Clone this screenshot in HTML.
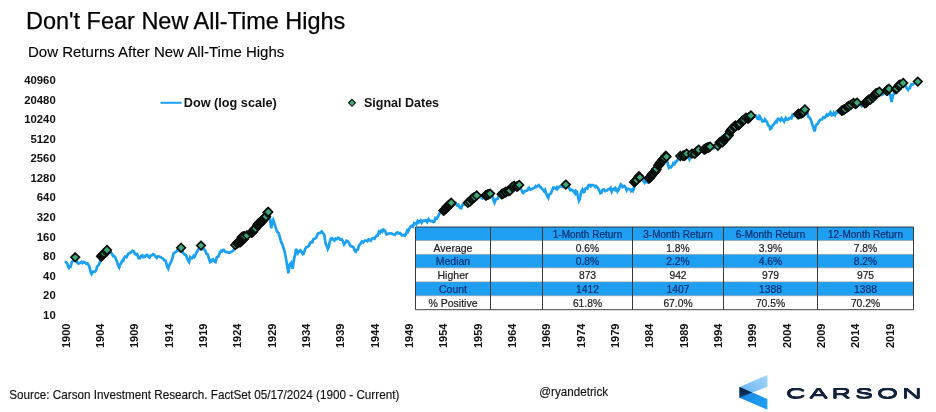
<!DOCTYPE html>
<html lang="en"><head><meta charset="utf-8"><title>Don't Fear New All-Time Highs</title>
<style>html,body{margin:0;padding:0;background:#fff;}body{position:relative;width:936px;height:412px;overflow:hidden;font-family:"Liberation Sans",Arial,sans-serif}svg{display:block}
.carson{position:absolute;left:786.2px;top:382.5px;font-size:14.4px;line-height:20px;letter-spacing:2.1px;color:#14233c;white-space:nowrap;transform-origin:0 0;transform:scaleX(1.88);text-shadow:0 .5px 0 #14233c,0 -.5px 0 #14233c,.1px 0 0 #14233c,-.1px 0 0 #14233c}</style>
</head><body>
<svg width="936" height="412" viewBox="0 0 936 412" font-family='"Liberation Sans", Arial, sans-serif'>
<rect width="936" height="412" fill="#fff"/>
<text x="26.0" y="29.1" font-size="24" fill="#000" stroke="#000" stroke-width="0.25" textLength="319.3" lengthAdjust="spacingAndGlyphs">Don't Fear New All-Time Highs</text>
<text x="28.0" y="57.0" font-size="15" fill="#000" stroke="#000" stroke-width="0.12" textLength="256.3" lengthAdjust="spacingAndGlyphs">Dow Returns After New All-Time Highs</text>
<text x="55.7" y="84.1" font-size="11.3" font-weight="bold" text-anchor="end" fill="#111">40960</text>
<text x="55.7" y="103.7" font-size="11.3" font-weight="bold" text-anchor="end" fill="#111">20480</text>
<text x="55.7" y="123.2" font-size="11.3" font-weight="bold" text-anchor="end" fill="#111">10240</text>
<text x="55.7" y="142.8" font-size="11.3" font-weight="bold" text-anchor="end" fill="#111">5120</text>
<text x="55.7" y="162.3" font-size="11.3" font-weight="bold" text-anchor="end" fill="#111">2560</text>
<text x="55.7" y="181.8" font-size="11.3" font-weight="bold" text-anchor="end" fill="#111">1280</text>
<text x="55.7" y="201.4" font-size="11.3" font-weight="bold" text-anchor="end" fill="#111">640</text>
<text x="55.7" y="220.9" font-size="11.3" font-weight="bold" text-anchor="end" fill="#111">320</text>
<text x="55.7" y="240.5" font-size="11.3" font-weight="bold" text-anchor="end" fill="#111">160</text>
<text x="55.7" y="260.1" font-size="11.3" font-weight="bold" text-anchor="end" fill="#111">80</text>
<text x="55.7" y="279.6" font-size="11.3" font-weight="bold" text-anchor="end" fill="#111">40</text>
<text x="55.7" y="299.2" font-size="11.3" font-weight="bold" text-anchor="end" fill="#111">20</text>
<text x="55.7" y="318.7" font-size="11.3" font-weight="bold" text-anchor="end" fill="#111">10</text>
<text transform="translate(69.6,348) rotate(-90)" font-size="11" font-weight="bold" fill="#111">1900</text>
<text transform="translate(103.9,348) rotate(-90)" font-size="11" font-weight="bold" fill="#111">1904</text>
<text transform="translate(138.3,348) rotate(-90)" font-size="11" font-weight="bold" fill="#111">1909</text>
<text transform="translate(172.6,348) rotate(-90)" font-size="11" font-weight="bold" fill="#111">1914</text>
<text transform="translate(206.9,348) rotate(-90)" font-size="11" font-weight="bold" fill="#111">1919</text>
<text transform="translate(241.2,348) rotate(-90)" font-size="11" font-weight="bold" fill="#111">1924</text>
<text transform="translate(275.6,348) rotate(-90)" font-size="11" font-weight="bold" fill="#111">1929</text>
<text transform="translate(309.9,348) rotate(-90)" font-size="11" font-weight="bold" fill="#111">1934</text>
<text transform="translate(344.2,348) rotate(-90)" font-size="11" font-weight="bold" fill="#111">1939</text>
<text transform="translate(378.6,348) rotate(-90)" font-size="11" font-weight="bold" fill="#111">1944</text>
<text transform="translate(412.9,348) rotate(-90)" font-size="11" font-weight="bold" fill="#111">1949</text>
<text transform="translate(447.2,348) rotate(-90)" font-size="11" font-weight="bold" fill="#111">1954</text>
<text transform="translate(481.6,348) rotate(-90)" font-size="11" font-weight="bold" fill="#111">1959</text>
<text transform="translate(515.9,348) rotate(-90)" font-size="11" font-weight="bold" fill="#111">1964</text>
<text transform="translate(550.2,348) rotate(-90)" font-size="11" font-weight="bold" fill="#111">1969</text>
<text transform="translate(584.5,348) rotate(-90)" font-size="11" font-weight="bold" fill="#111">1974</text>
<text transform="translate(618.9,348) rotate(-90)" font-size="11" font-weight="bold" fill="#111">1979</text>
<text transform="translate(653.2,348) rotate(-90)" font-size="11" font-weight="bold" fill="#111">1984</text>
<text transform="translate(687.5,348) rotate(-90)" font-size="11" font-weight="bold" fill="#111">1989</text>
<text transform="translate(721.9,348) rotate(-90)" font-size="11" font-weight="bold" fill="#111">1994</text>
<text transform="translate(756.2,348) rotate(-90)" font-size="11" font-weight="bold" fill="#111">1999</text>
<text transform="translate(790.5,348) rotate(-90)" font-size="11" font-weight="bold" fill="#111">2004</text>
<text transform="translate(824.9,348) rotate(-90)" font-size="11" font-weight="bold" fill="#111">2009</text>
<text transform="translate(859.2,348) rotate(-90)" font-size="11" font-weight="bold" fill="#111">2014</text>
<text transform="translate(893.5,348) rotate(-90)" font-size="11" font-weight="bold" fill="#111">2019</text>
<line x1="160.5" y1="102.8" x2="181.7" y2="102.8" stroke="#1ca0f2" stroke-width="2"/>
<text x="183.8" y="107.2" font-size="12.5" font-weight="bold" fill="#111" textLength="93" lengthAdjust="spacingAndGlyphs">Dow (log scale)</text>
<path d="M352,99.3 L355.5,102.8 L352,106.3 L348.5,102.8Z" fill="#3da878" stroke="#0a0f0c" stroke-width="1.1"/>
<text x="363.9" y="107.2" font-size="12.5" font-weight="bold" fill="#111" textLength="75.2" lengthAdjust="spacingAndGlyphs">Signal Dates</text>
<path d="M65.8,261.9 L66.8,263.0 L67.5,264.2 L68.3,267.0 L68.9,267.9 L69.8,266.4 L70.6,266.6 L71.8,262.2 L73.0,261.1 L74.3,258.0 L75.7,259.3 L76.7,260.9 L77.6,263.1 L78.6,263.5 L79.8,263.0 L81.6,261.8 L82.6,263.1 L83.8,262.0 L85.2,262.7 L86.4,263.7 L87.6,263.5 L89.1,266.1 L90.0,269.2 L90.9,272.9 L91.7,274.1 L93.2,271.6 L93.7,271.6 L95.1,271.7 L96.1,270.5 L97.0,266.8 L98.5,265.4 L99.6,262.7 L101.0,259.4 L101.9,258.7 L102.9,257.6 L104.1,254.6 L104.6,254.8 L106.0,254.7 L107.1,250.9 L108.3,250.8 L109.2,252.6 L110.7,252.2 L111.9,253.7 L113.1,256.0 L113.6,255.9 L114.8,256.6 L116.7,260.8 L118.2,265.6 L119.2,267.4 L120.0,264.7 L121.1,263.4 L121.6,261.6 L122.4,260.7 L123.3,260.8 L124.0,258.0 L125.0,256.6 L126.5,257.3 L127.7,254.6 L128.5,253.4 L130.0,253.2 L131.3,251.7 L132.5,250.8 L133.7,251.3 L135.1,254.1 L136.2,254.5 L137.1,254.1 L138.6,258.1 L140.0,258.1 L141.0,256.0 L142.4,255.3 L143.5,257.3 L144.7,256.9 L145.6,255.5 L147.1,254.9 L148.6,257.0 L149.5,257.6 L150.5,255.7 L151.9,255.2 L153.2,254.1 L154.0,254.5 L155.4,256.6 L156.8,257.9 L157.8,256.5 L159.2,256.6 L160.5,257.2 L161.5,257.9 L162.9,258.4 L164.4,260.5 L165.5,260.5 L166.0,262.0 L167.2,266.8 L168.2,268.7 L169.6,264.6 L170.1,263.6 L171.1,262.0 L172.6,257.3 L173.6,253.4 L175.0,252.4 L176.2,251.7 L177.4,250.2 L178.6,249.9 L179.6,250.8 L181.0,249.1 L182.3,250.7 L183.2,253.3 L184.7,254.5 L186.0,255.2 L187.1,258.2 L188.4,261.0 L189.1,262.0 L190.2,257.3 L190.8,258.0 L192.2,258.1 L193.5,256.0 L194.4,257.0 L195.3,255.5 L196.2,252.7 L196.8,252.3 L198.1,249.6 L199.3,248.8 L200.2,246.3 L201.7,247.5 L202.6,249.2 L203.9,249.1 L205.3,250.7 L206.5,253.8 L207.8,254.5 L209.0,258.8 L210.2,262.2 L211.1,261.8 L212.1,259.6 L213.1,259.3 L214.6,261.7 L215.5,262.1 L216.8,257.3 L217.5,257.0 L218.3,256.7 L219.9,252.4 L220.8,251.1 L222.0,251.4 L222.8,250.0 L223.8,249.9 L224.8,251.5 L226.0,252.0 L227.0,251.9 L228.2,252.6 L229.6,252.6 L230.6,252.1 L231.6,251.8 L233.6,250.2 L235.0,246.1 L236.1,245.5 L237.3,245.2 L238.5,241.0 L239.7,240.6 L240.5,239.7 L241.5,238.3 L242.5,240.1 L244.0,236.4 L244.6,237.0 L245.5,237.6 L246.6,235.2 L247.6,236.8 L248.7,234.8 L249.4,234.6 L250.4,234.4 L251.3,232.7 L252.2,232.2 L253.3,229.8 L254.3,229.9 L255.6,229.1 L256.7,226.4 L258.2,225.8 L259.1,223.9 L260.6,220.9 L261.5,220.6 L262.8,218.2 L264.0,217.9 L265.3,216.2 L266.3,214.8 L267.3,215.0 L268.8,211.6 L270.0,218.9 L271.3,228.2 L272.6,221.0 L273.2,219.8 L274.9,224.8 L275.8,227.9 L277.3,232.0 L278.6,233.0 L279.8,237.1 L281.1,242.0 L282.2,244.1 L283.1,246.6 L284.6,251.3 L285.5,255.9 L286.3,260.2 L287.6,267.9 L288.3,273.2 L289.5,264.8 L291.2,262.8 L292.0,266.6 L292.6,268.9 L293.7,261.2 L294.3,257.7 L295.2,255.0 L296.0,249.0 L297.4,251.5 L298.0,253.1 L299.1,251.3 L300.4,250.4 L301.5,251.8 L302.8,254.2 L303.6,253.8 L305.2,248.9 L306.7,247.0 L307.7,246.7 L309.2,245.4 L310.3,242.5 L311.3,242.1 L312.3,242.3 L313.4,239.1 L315.0,238.5 L316.4,237.5 L317.7,233.8 L318.6,233.1 L319.9,233.1 L321.7,231.5 L322.7,232.8 L324.2,234.5 L325.2,241.3 L325.9,244.2 L327.1,246.6 L327.8,249.0 L328.8,246.9 L329.5,242.9 L330.9,238.6 L331.9,238.0 L333.0,239.6 L334.4,240.5 L335.6,238.5 L336.8,239.1 L338.0,237.7 L338.9,237.9 L340.1,239.6 L341.7,239.3 L342.6,240.6 L344.1,244.5 L345.5,242.6 L346.5,240.8 L347.9,241.4 L349.4,243.8 L350.8,246.2 L352.6,246.6 L353.4,247.1 L355.0,251.4 L355.7,251.8 L356.8,249.7 L357.9,249.5 L358.6,246.6 L359.5,244.7 L360.5,243.9 L361.8,241.5 L362.3,241.6 L363.3,242.5 L364.9,240.5 L365.9,240.5 L367.4,241.2 L368.5,239.5 L369.6,240.0 L370.8,240.8 L371.9,238.6 L373.2,238.1 L374.6,238.8 L375.8,236.5 L376.8,235.7 L377.8,235.7 L378.9,231.7 L380.0,232.7 L380.5,231.7 L381.4,230.6 L382.4,231.7 L383.4,229.7 L384.8,230.5 L386.6,234.5 L387.5,234.1 L388.9,233.5 L390.2,233.3 L391.1,233.4 L392.2,233.7 L393.8,234.4 L394.9,235.0 L396.4,232.8 L397.5,232.4 L398.4,233.5 L399.9,233.0 L401.1,234.3 L401.9,235.5 L403.5,235.0 L404.8,235.7 L406.2,233.3 L407.3,230.4 L408.2,231.5 L410.0,227.2 L411.5,225.9 L413.0,226.7 L414.2,223.0 L414.9,223.3 L416.2,224.3 L417.7,221.0 L418.8,222.4 L419.7,221.5 L420.6,220.5 L421.6,222.5 L422.7,220.9 L423.8,220.5 L424.6,221.0 L425.9,220.2 L427.2,222.1 L428.6,219.1 L429.4,220.2 L430.6,221.2 L432.0,221.0 L433.1,222.0 L434.3,221.6 L435.4,218.0 L436.7,218.7 L438.2,216.3 L439.4,213.4 L440.3,212.4 L441.2,211.1 L442.8,209.6 L444.0,208.9 L445.0,208.8 L446.5,205.6 L447.6,205.5 L448.8,203.9 L449.8,202.6 L450.7,203.7 L452.5,202.6 L453.5,202.9 L454.4,203.2 L455.6,202.9 L456.1,204.1 L457.2,205.4 L458.3,204.7 L459.8,207.6 L461.2,208.2 L462.3,204.7 L463.4,204.3 L464.5,204.5 L465.7,201.8 L467.0,202.8 L468.3,202.5 L469.2,198.6 L470.7,197.8 L471.8,198.7 L472.8,195.9 L474.3,194.8 L475.8,195.7 L477.0,196.0 L478.0,196.1 L479.3,196.9 L480.8,196.4 L481.6,197.8 L482.6,198.4 L483.8,196.1 L485.2,195.8 L486.1,196.2 L487.5,194.3 L488.9,193.6 L490.1,194.6 L491.3,193.4 L492.5,195.5 L493.3,199.8 L494.5,202.7 L495.8,199.4 L496.9,198.9 L497.8,198.8 L498.7,196.1 L499.8,195.3 L501.1,195.8 L502.4,193.2 L503.4,192.9 L504.8,193.6 L506.3,190.5 L507.1,191.0 L508.5,191.2 L510.0,187.8 L510.7,188.0 L512.2,188.4 L513.6,186.0 L514.4,186.9 L515.5,186.8 L516.4,185.9 L518.0,184.8 L518.9,188.1 L519.9,186.5 L521.4,189.8 L522.6,192.5 L523.3,193.0 L524.5,191.4 L526.2,190.8 L527.3,190.5 L528.5,188.2 L529.1,187.7 L530.4,189.5 L532.0,188.9 L533.1,188.3 L534.4,188.0 L535.0,187.1 L535.8,186.1 L536.7,186.8 L537.9,185.8 L538.8,185.1 L540.2,187.2 L540.8,187.2 L541.7,188.3 L543.1,190.0 L544.2,191.4 L545.1,190.0 L545.6,191.7 L547.1,196.0 L548.2,197.8 L549.0,194.8 L550.1,193.9 L550.9,193.3 L552.4,189.6 L553.4,187.5 L554.8,187.7 L555.8,188.7 L556.7,187.5 L557.3,189.0 L558.6,187.5 L559.2,186.9 L560.2,186.3 L561.7,186.1 L563.0,186.9 L564.4,184.2 L565.0,185.0 L566.0,186.5 L567.6,186.5 L568.9,187.7 L570.3,190.2 L571.5,189.7 L572.9,190.5 L573.8,191.9 L575.1,193.5 L575.7,191.0 L577.0,192.1 L577.7,195.5 L579.0,200.6 L579.9,198.8 L580.6,194.4 L581.5,191.0 L582.5,189.5 L583.8,192.2 L584.5,191.9 L585.3,188.6 L586.4,188.1 L587.3,188.6 L588.3,185.6 L589.2,184.9 L590.7,186.3 L591.3,185.1 L592.5,185.1 L594.2,185.7 L595.2,187.0 L596.1,186.0 L597.1,186.8 L599.0,189.8 L600.4,193.2 L601.4,192.7 L602.5,189.9 L603.9,189.6 L605.3,191.1 L606.8,190.6 L607.6,190.0 L608.5,189.1 L609.7,189.0 L610.6,187.9 L611.7,191.5 L612.6,189.6 L613.9,188.7 L614.9,189.8 L615.5,188.0 L616.8,189.4 L617.5,191.5 L618.9,189.3 L619.4,187.7 L620.8,184.3 L621.4,184.9 L622.5,187.1 L624.3,186.0 L625.3,186.9 L626.7,190.1 L627.2,188.8 L628.5,188.8 L630.1,189.6 L631.0,191.0 L632.4,189.5 L633.0,190.7 L634.2,187.6 L635.3,183.9 L636.1,181.3 L637.0,180.6 L638.6,177.4 L639.8,177.5 L640.6,178.1 L641.8,178.6 L643.4,181.0 L644.6,182.6 L645.6,180.3 L647.0,182.2 L648.2,182.5 L649.4,179.3 L650.7,178.7 L652.1,176.3 L653.4,173.1 L654.3,172.5 L655.7,172.3 L657.0,168.1 L658.0,167.6 L659.2,167.5 L660.3,163.7 L661.6,163.1 L662.4,162.1 L663.4,159.9 L664.4,160.0 L665.7,156.0 L666.5,156.8 L667.5,162.9 L668.9,167.8 L670.0,166.8 L671.1,167.3 L672.5,165.2 L673.3,163.2 L674.5,164.1 L675.5,161.7 L676.2,161.8 L677.2,160.7 L678.2,158.7 L679.8,158.0 L680.8,158.1 L681.9,156.0 L683.4,155.4 L684.6,154.6 L686.1,154.3 L687.1,154.2 L688.2,156.6 L689.5,159.3 L690.5,156.6 L691.9,154.4 L693.2,154.4 L694.8,151.8 L696.3,152.5 L696.8,150.9 L698.0,152.1 L699.4,152.1 L700.4,151.7 L701.4,150.0 L702.9,151.6 L704.1,149.7 L705.3,147.3 L706.8,148.5 L707.8,145.9 L708.9,147.3 L710.1,147.6 L711.2,147.2 L712.4,148.2 L713.8,148.3 L715.0,147.1 L716.2,147.5 L717.4,146.0 L718.5,143.9 L719.8,143.5 L721.1,141.0 L722.3,137.3 L723.6,139.4 L724.7,135.8 L726.0,133.4 L727.2,135.1 L728.3,132.6 L729.3,130.4 L730.8,130.8 L732.0,128.8 L733.1,126.0 L734.5,127.4 L735.6,125.1 L736.6,123.1 L737.6,124.2 L739.1,122.2 L740.5,121.4 L741.9,121.5 L743.3,118.8 L744.6,119.0 L745.3,118.0 L746.6,116.5 L748.1,116.0 L749.1,115.5 L750.2,114.7 L751.6,115.1 L752.9,114.6 L754.0,116.4 L755.0,115.7 L755.9,115.7 L757.4,118.7 L758.7,119.1 L759.5,116.2 L760.0,116.7 L761.1,118.6 L762.4,121.4 L763.3,121.3 L764.3,121.1 L764.9,119.4 L765.7,120.3 L767.3,122.6 L768.1,125.3 L769.5,126.2 L770.2,129.0 L771.3,128.3 L772.6,125.5 L773.9,124.3 L775.8,121.3 L776.8,122.0 L777.8,118.9 L779.4,119.2 L780.5,120.5 L781.5,118.3 L783.1,120.3 L784.1,121.6 L785.7,118.0 L786.7,119.5 L788.0,119.8 L789.1,118.3 L790.3,117.8 L791.4,118.4 L792.6,114.7 L794.0,115.4 L794.8,115.0 L796.0,114.0 L796.9,114.3 L797.6,113.8 L798.8,112.7 L800.2,112.2 L801.3,110.4 L802.4,109.4 L804.0,110.9 L804.9,109.6 L806.0,110.8 L807.3,113.1 L808.2,116.7 L809.8,117.8 L811.0,120.1 L812.2,124.1 L813.1,126.8 L814.6,131.4 L815.7,126.3 L816.3,125.0 L817.8,123.9 L818.7,121.7 L820.1,119.9 L821.4,119.5 L821.9,119.5 L823.3,117.2 L824.7,117.8 L825.5,116.9 L826.9,114.5 L827.9,115.6 L829.2,114.1 L830.4,112.3 L831.9,115.3 L832.8,115.0 L833.7,112.9 L835.0,115.0 L836.5,111.8 L837.6,112.6 L838.6,111.0 L840.1,110.6 L841.5,108.5 L843.0,109.7 L843.7,108.5 L844.6,107.4 L846.0,106.2 L847.4,106.0 L848.3,104.9 L849.5,105.5 L850.6,104.2 L852.2,103.7 L853.1,105.0 L854.1,102.8 L855.1,103.3 L856.1,102.2 L857.1,102.8 L858.5,103.7 L859.8,103.9 L860.7,104.6 L861.6,105.7 L862.7,103.5 L864.4,103.3 L865.3,103.8 L866.4,101.7 L867.3,103.5 L868.0,100.8 L869.1,99.3 L870.3,100.4 L871.7,97.6 L872.5,96.1 L873.9,95.4 L875.3,93.4 L876.7,92.4 L878.1,93.0 L878.9,91.7 L880.4,92.4 L881.4,94.9 L882.6,94.7 L883.4,93.4 L884.5,93.0 L886.2,91.4 L887.6,91.4 L889.0,93.9 L889.9,93.4 L891.6,102.1 L893.0,95.1 L894.2,93.3 L895.9,89.9 L896.9,90.0 L898.0,87.2 L898.9,88.3 L899.6,86.4 L900.4,85.0 L901.6,85.0 L903.2,83.6 L904.0,83.8 L905.6,86.4 L906.8,88.1 L908.1,89.9 L909.0,88.4 L909.9,88.3 L910.5,86.2 L911.3,84.4 L912.7,84.6 L913.4,84.1" fill="none" stroke="#1ca0f2" stroke-width="2.7" stroke-linejoin="miter" stroke-miterlimit="3" stroke-linecap="round"/>
<g fill="#3da878" stroke="#0a0f0c" stroke-width="1.65" stroke-linejoin="miter"><path d="M75.2,253.0 L79.5,257.3 L75.2,261.6 L70.9,257.3Z"/><path d="M101.2,252.3 L105.5,256.6 L101.2,260.9 L96.9,256.6Z"/><path d="M101.5,251.9 L105.8,256.2 L101.5,260.5 L97.2,256.2Z"/><path d="M101.8,251.3 L106.1,255.6 L101.8,259.9 L97.5,255.6Z"/><path d="M102.2,250.9 L106.5,255.2 L102.2,259.5 L97.9,255.2Z"/><path d="M103.0,250.8 L107.3,255.1 L103.0,259.4 L98.7,255.1Z"/><path d="M103.4,250.0 L107.7,254.3 L103.4,258.6 L99.1,254.3Z"/><path d="M104.0,249.2 L108.3,253.5 L104.0,257.8 L99.7,253.5Z"/><path d="M104.2,249.1 L108.5,253.4 L104.2,257.7 L99.9,253.4Z"/><path d="M106.4,247.5 L110.7,251.8 L106.4,256.1 L102.1,251.8Z"/><path d="M107.0,245.7 L111.3,250.0 L107.0,254.3 L102.7,250.0Z"/><path d="M181.1,243.5 L185.4,247.8 L181.1,252.1 L176.8,247.8Z"/><path d="M201.0,241.3 L205.3,245.6 L201.0,249.9 L196.7,245.6Z"/><path d="M235.3,240.7 L239.6,245.0 L235.3,249.3 L231.0,245.0Z"/><path d="M237.1,238.9 L241.4,243.2 L237.1,247.5 L232.8,243.2Z"/><path d="M237.3,238.7 L241.6,243.0 L237.3,247.3 L233.0,243.0Z"/><path d="M238.0,238.6 L242.3,242.9 L238.0,247.2 L233.7,242.9Z"/><path d="M240.0,238.2 L244.3,242.5 L240.0,246.8 L235.7,242.5Z"/><path d="M240.2,237.6 L244.5,241.9 L240.2,246.2 L235.9,241.9Z"/><path d="M241.1,237.1 L245.4,241.4 L241.1,245.7 L236.8,241.4Z"/><path d="M241.4,236.8 L245.7,241.1 L241.4,245.4 L237.1,241.1Z"/><path d="M241.9,235.9 L246.2,240.2 L241.9,244.5 L237.6,240.2Z"/><path d="M242.6,235.4 L246.9,239.7 L242.6,244.0 L238.3,239.7Z"/><path d="M242.9,234.8 L247.2,239.1 L242.9,243.4 L238.6,239.1Z"/><path d="M243.5,234.5 L247.8,238.8 L243.5,243.1 L239.2,238.8Z"/><path d="M243.9,234.6 L248.2,238.9 L243.9,243.2 L239.6,238.9Z"/><path d="M244.6,232.7 L248.9,237.0 L244.6,241.3 L240.3,237.0Z"/><path d="M241.7,233.0 L246.0,237.3 L241.7,241.6 L237.4,237.3Z"/><path d="M242.3,232.8 L246.6,237.1 L242.3,241.4 L238.0,237.1Z"/><path d="M242.8,232.4 L247.1,236.7 L242.8,241.0 L238.5,236.7Z"/><path d="M243.4,232.3 L247.7,236.6 L243.4,240.9 L239.1,236.6Z"/><path d="M243.7,232.4 L248.0,236.7 L243.7,241.0 L239.4,236.7Z"/><path d="M244.4,231.8 L248.7,236.1 L244.4,240.4 L240.1,236.1Z"/><path d="M247.0,231.0 L251.3,235.3 L247.0,239.6 L242.7,235.3Z"/><path d="M251.4,228.6 L255.7,232.9 L251.4,237.2 L247.1,232.9Z"/><path d="M251.9,228.2 L256.2,232.5 L251.9,236.8 L247.6,232.5Z"/><path d="M252.0,227.9 L256.3,232.2 L252.0,236.5 L247.7,232.2Z"/><path d="M252.6,227.5 L256.9,231.8 L252.6,236.1 L248.3,231.8Z"/><path d="M252.7,227.0 L257.0,231.3 L252.7,235.6 L248.4,231.3Z"/><path d="M253.5,226.2 L257.8,230.5 L253.5,234.8 L249.2,230.5Z"/><path d="M254.0,225.5 L258.3,229.8 L254.0,234.1 L249.7,229.8Z"/><path d="M254.6,224.7 L258.9,229.0 L254.6,233.3 L250.3,229.0Z"/><path d="M255.7,224.2 L260.0,228.5 L255.7,232.8 L251.4,228.5Z"/><path d="M257.4,221.3 L261.7,225.6 L257.4,229.9 L253.1,225.6Z"/><path d="M257.6,220.6 L261.9,224.9 L257.6,229.2 L253.3,224.9Z"/><path d="M258.0,220.2 L262.3,224.5 L258.0,228.8 L253.7,224.5Z"/><path d="M258.6,219.9 L262.9,224.2 L258.6,228.5 L254.3,224.2Z"/><path d="M258.6,219.0 L262.9,223.3 L258.6,227.6 L254.3,223.3Z"/><path d="M259.3,218.3 L263.6,222.6 L259.3,226.9 L255.0,222.6Z"/><path d="M261.0,218.5 L265.3,222.8 L261.0,227.1 L256.7,222.8Z"/><path d="M261.4,217.4 L265.7,221.7 L261.4,226.0 L257.1,221.7Z"/><path d="M261.6,217.4 L265.9,221.7 L261.6,226.0 L257.3,221.7Z"/><path d="M262.4,216.6 L266.7,220.9 L262.4,225.2 L258.1,220.9Z"/><path d="M262.5,215.9 L266.8,220.2 L262.5,224.5 L258.2,220.2Z"/><path d="M263.3,215.6 L267.6,219.9 L263.3,224.2 L259.0,219.9Z"/><path d="M263.2,215.1 L267.5,219.4 L263.2,223.7 L258.9,219.4Z"/><path d="M264.0,214.8 L268.3,219.1 L264.0,223.4 L259.7,219.1Z"/><path d="M264.3,214.3 L268.6,218.6 L264.3,222.9 L260.0,218.6Z"/><path d="M264.8,213.3 L269.1,217.6 L264.8,221.9 L260.5,217.6Z"/><path d="M265.5,212.7 L269.8,217.0 L265.5,221.3 L261.2,217.0Z"/><path d="M266.0,212.2 L270.3,216.5 L266.0,220.8 L261.7,216.5Z"/><path d="M267.5,208.2 L271.8,212.5 L267.5,216.8 L263.2,212.5Z"/><path d="M268.3,207.7 L272.6,212.0 L268.3,216.3 L264.0,212.0Z"/><path d="M443.5,206.5 L447.8,210.8 L443.5,215.1 L439.2,210.8Z"/><path d="M443.9,206.2 L448.2,210.5 L443.9,214.8 L439.6,210.5Z"/><path d="M444.6,205.2 L448.9,209.5 L444.6,213.8 L440.3,209.5Z"/><path d="M445.0,204.9 L449.3,209.2 L445.0,213.5 L440.7,209.2Z"/><path d="M445.8,204.5 L450.1,208.8 L445.8,213.1 L441.5,208.8Z"/><path d="M445.9,204.1 L450.2,208.4 L445.9,212.7 L441.6,208.4Z"/><path d="M446.5,203.8 L450.8,208.1 L446.5,212.4 L442.2,208.1Z"/><path d="M446.7,202.8 L451.0,207.1 L446.7,211.4 L442.4,207.1Z"/><path d="M447.0,202.5 L451.3,206.8 L447.0,211.1 L442.7,206.8Z"/><path d="M447.9,202.2 L452.2,206.5 L447.9,210.8 L443.6,206.5Z"/><path d="M448.3,201.6 L452.6,205.9 L448.3,210.2 L444.0,205.9Z"/><path d="M448.4,201.2 L452.7,205.5 L448.4,209.8 L444.1,205.5Z"/><path d="M449.3,200.5 L453.6,204.8 L449.3,209.1 L445.0,204.8Z"/><path d="M449.4,200.4 L453.7,204.7 L449.4,209.0 L445.1,204.7Z"/><path d="M450.3,199.5 L454.6,203.8 L450.3,208.1 L446.0,203.8Z"/><path d="M450.9,199.4 L455.2,203.7 L450.9,208.0 L446.6,203.7Z"/><path d="M451.3,198.5 L455.6,202.8 L451.3,207.1 L447.0,202.8Z"/><path d="M467.8,198.5 L472.1,202.8 L467.8,207.1 L463.5,202.8Z"/><path d="M469.8,197.4 L474.1,201.7 L469.8,206.0 L465.5,201.7Z"/><path d="M471.4,195.1 L475.7,199.4 L471.4,203.7 L467.1,199.4Z"/><path d="M472.0,194.9 L476.3,199.2 L472.0,203.5 L467.7,199.2Z"/><path d="M472.3,194.2 L476.6,198.5 L472.3,202.8 L468.0,198.5Z"/><path d="M474.0,193.5 L478.3,197.8 L474.0,202.1 L469.7,197.8Z"/><path d="M474.4,192.9 L478.7,197.2 L474.4,201.5 L470.1,197.2Z"/><path d="M476.7,191.2 L481.0,195.5 L476.7,199.8 L472.4,195.5Z"/><path d="M485.7,191.2 L490.0,195.5 L485.7,199.8 L481.4,195.5Z"/><path d="M486.1,190.7 L490.4,195.0 L486.1,199.3 L481.8,195.0Z"/><path d="M486.6,190.9 L490.9,195.2 L486.6,199.5 L482.3,195.2Z"/><path d="M487.5,190.3 L491.8,194.6 L487.5,198.9 L483.2,194.6Z"/><path d="M488.3,190.0 L492.6,194.3 L488.3,198.6 L484.0,194.3Z"/><path d="M488.8,190.1 L493.1,194.4 L488.8,198.7 L484.5,194.4Z"/><path d="M490.1,189.3 L494.4,193.6 L490.1,197.9 L485.8,193.6Z"/><path d="M501.7,190.0 L506.0,194.3 L501.7,198.6 L497.4,194.3Z"/><path d="M502.2,189.5 L506.5,193.8 L502.2,198.1 L497.9,193.8Z"/><path d="M502.9,189.6 L507.2,193.9 L502.9,198.2 L498.6,193.9Z"/><path d="M503.3,189.1 L507.6,193.4 L503.3,197.7 L499.0,193.4Z"/><path d="M505.1,188.1 L509.4,192.4 L505.1,196.7 L500.8,192.4Z"/><path d="M505.7,188.0 L510.0,192.3 L505.7,196.6 L501.4,192.3Z"/><path d="M505.9,187.5 L510.2,191.8 L505.9,196.1 L501.6,191.8Z"/><path d="M508.0,187.1 L512.3,191.4 L508.0,195.7 L503.7,191.4Z"/><path d="M508.7,186.5 L513.0,190.8 L508.7,195.1 L504.4,190.8Z"/><path d="M509.1,186.6 L513.4,190.9 L509.1,195.2 L504.8,190.9Z"/><path d="M510.1,186.3 L514.4,190.6 L510.1,194.9 L505.8,190.6Z"/><path d="M512.2,182.7 L516.5,187.0 L512.2,191.3 L507.9,187.0Z"/><path d="M513.0,182.6 L517.3,186.9 L513.0,191.2 L508.7,186.9Z"/><path d="M513.6,182.4 L517.9,186.7 L513.6,191.0 L509.3,186.7Z"/><path d="M514.3,181.6 L518.6,185.9 L514.3,190.2 L510.0,185.9Z"/><path d="M516.6,182.3 L520.9,186.6 L516.6,190.9 L512.3,186.6Z"/><path d="M517.2,182.2 L521.5,186.5 L517.2,190.8 L512.9,186.5Z"/><path d="M517.9,181.8 L522.2,186.1 L517.9,190.4 L513.6,186.1Z"/><path d="M519.2,180.6 L523.5,184.9 L519.2,189.2 L514.9,184.9Z"/><path d="M565.8,180.3 L570.1,184.6 L565.8,188.9 L561.5,184.6Z"/><path d="M634.2,177.9 L638.5,182.2 L634.2,186.5 L629.9,182.2Z"/><path d="M634.8,177.4 L639.1,181.7 L634.8,186.0 L630.5,181.7Z"/><path d="M635.5,176.8 L639.8,181.1 L635.5,185.4 L631.2,181.1Z"/><path d="M636.1,176.0 L640.4,180.3 L636.1,184.6 L631.8,180.3Z"/><path d="M636.6,175.8 L640.9,180.1 L636.6,184.4 L632.3,180.1Z"/><path d="M638.6,172.7 L642.9,177.0 L638.6,181.3 L634.3,177.0Z"/><path d="M639.0,172.0 L643.3,176.3 L639.0,180.6 L634.7,176.3Z"/><path d="M639.8,173.1 L644.1,177.4 L639.8,181.7 L635.5,177.4Z"/><path d="M649.0,174.3 L653.3,178.6 L649.0,182.9 L644.7,178.6Z"/><path d="M649.7,173.7 L654.0,178.0 L649.7,182.3 L645.4,178.0Z"/><path d="M649.9,173.3 L654.2,177.6 L649.9,181.9 L645.6,177.6Z"/><path d="M650.2,172.7 L654.5,177.0 L650.2,181.3 L645.9,177.0Z"/><path d="M651.1,171.8 L655.4,176.1 L651.1,180.4 L646.8,176.1Z"/><path d="M651.6,171.2 L655.9,175.5 L651.6,179.8 L647.3,175.5Z"/><path d="M651.7,170.7 L656.0,175.0 L651.7,179.3 L647.4,175.0Z"/><path d="M651.9,170.5 L656.2,174.8 L651.9,179.1 L647.6,174.8Z"/><path d="M652.3,169.9 L656.6,174.2 L652.3,178.5 L648.0,174.2Z"/><path d="M653.0,169.0 L657.3,173.3 L653.0,177.6 L648.7,173.3Z"/><path d="M654.3,167.9 L658.6,172.2 L654.3,176.5 L650.0,172.2Z"/><path d="M654.8,167.1 L659.1,171.4 L654.8,175.7 L650.5,171.4Z"/><path d="M655.5,166.7 L659.8,171.0 L655.5,175.3 L651.2,171.0Z"/><path d="M655.7,165.9 L660.0,170.2 L655.7,174.5 L651.4,170.2Z"/><path d="M655.9,165.7 L660.2,170.0 L655.9,174.3 L651.6,170.0Z"/><path d="M656.3,165.2 L660.6,169.5 L656.3,173.8 L652.0,169.5Z"/><path d="M656.4,164.6 L660.7,168.9 L656.4,173.2 L652.1,168.9Z"/><path d="M658.5,161.4 L662.8,165.7 L658.5,170.0 L654.2,165.7Z"/><path d="M658.7,160.7 L663.0,165.0 L658.7,169.3 L654.4,165.0Z"/><path d="M658.9,160.4 L663.2,164.7 L658.9,169.0 L654.6,164.7Z"/><path d="M659.9,159.6 L664.2,163.9 L659.9,168.2 L655.6,163.9Z"/><path d="M659.8,158.8 L664.1,163.1 L659.8,167.4 L655.5,163.1Z"/><path d="M660.4,158.2 L664.7,162.5 L660.4,166.8 L656.1,162.5Z"/><path d="M661.4,157.5 L665.7,161.8 L661.4,166.1 L657.1,161.8Z"/><path d="M661.8,156.9 L666.1,161.2 L661.8,165.5 L657.5,161.2Z"/><path d="M662.1,156.2 L666.4,160.5 L662.1,164.8 L657.8,160.5Z"/><path d="M662.8,155.7 L667.1,160.0 L662.8,164.3 L658.5,160.0Z"/><path d="M663.2,155.4 L667.5,159.7 L663.2,164.0 L658.9,159.7Z"/><path d="M663.9,154.5 L668.2,158.8 L663.9,163.1 L659.6,158.8Z"/><path d="M663.9,154.2 L668.2,158.5 L663.9,162.8 L659.6,158.5Z"/><path d="M664.3,153.5 L668.6,157.8 L664.3,162.1 L660.0,157.8Z"/><path d="M665.8,151.5 L670.1,155.8 L665.8,160.1 L661.5,155.8Z"/><path d="M666.5,152.4 L670.8,156.7 L666.5,161.0 L662.2,156.7Z"/><path d="M680.3,151.7 L684.6,156.0 L680.3,160.3 L676.0,156.0Z"/><path d="M682.9,151.5 L687.2,155.8 L682.9,160.1 L678.6,155.8Z"/><path d="M683.6,151.3 L687.9,155.6 L683.6,159.9 L679.3,155.6Z"/><path d="M684.6,151.4 L688.9,155.7 L684.6,160.0 L680.3,155.7Z"/><path d="M684.9,151.0 L689.2,155.3 L684.9,159.6 L680.6,155.3Z"/><path d="M685.1,150.6 L689.4,154.9 L685.1,159.2 L680.8,154.9Z"/><path d="M686.6,149.3 L690.9,153.6 L686.6,157.9 L682.3,153.6Z"/><path d="M691.9,149.3 L696.2,153.6 L691.9,157.9 L687.6,153.6Z"/><path d="M694.7,149.6 L699.0,153.9 L694.7,158.2 L690.4,153.9Z"/><path d="M696.3,147.3 L700.6,151.6 L696.3,155.9 L692.0,151.6Z"/><path d="M697.1,147.1 L701.4,151.4 L697.1,155.7 L692.8,151.4Z"/><path d="M697.8,146.4 L702.1,150.7 L697.8,155.0 L693.5,150.7Z"/><path d="M698.7,145.4 L703.0,149.7 L698.7,154.0 L694.4,149.7Z"/><path d="M704.1,145.2 L708.4,149.5 L704.1,153.8 L699.8,149.5Z"/><path d="M704.6,144.9 L708.9,149.2 L704.6,153.5 L700.3,149.2Z"/><path d="M705.1,144.7 L709.4,149.0 L705.1,153.3 L700.8,149.0Z"/><path d="M705.3,144.7 L709.6,149.0 L705.3,153.3 L701.0,149.0Z"/><path d="M706.1,144.1 L710.4,148.4 L706.1,152.7 L701.8,148.4Z"/><path d="M706.4,144.0 L710.7,148.3 L706.4,152.6 L702.1,148.3Z"/><path d="M707.1,143.5 L711.4,147.8 L707.1,152.1 L702.8,147.8Z"/><path d="M707.5,143.4 L711.8,147.7 L707.5,152.0 L703.2,147.7Z"/><path d="M708.5,143.2 L712.8,147.5 L708.5,151.8 L704.2,147.5Z"/><path d="M708.9,143.1 L713.2,147.4 L708.9,151.7 L704.6,147.4Z"/><path d="M710.1,142.3 L714.4,146.6 L710.1,150.9 L705.8,146.6Z"/><path d="M717.9,141.5 L722.2,145.8 L717.9,150.1 L713.6,145.8Z"/><path d="M719.8,138.7 L724.1,143.0 L719.8,147.3 L715.5,143.0Z"/><path d="M720.0,138.0 L724.3,142.3 L720.0,146.6 L715.7,142.3Z"/><path d="M720.0,137.9 L724.3,142.2 L720.0,146.5 L715.7,142.2Z"/><path d="M720.8,137.4 L725.1,141.7 L720.8,146.0 L716.5,141.7Z"/><path d="M722.5,138.1 L726.8,142.4 L722.5,146.7 L718.2,142.4Z"/><path d="M723.8,136.0 L728.1,140.3 L723.8,144.6 L719.5,140.3Z"/><path d="M724.3,135.1 L728.6,139.4 L724.3,143.7 L720.0,139.4Z"/><path d="M725.3,134.2 L729.6,138.5 L725.3,142.8 L721.0,138.5Z"/><path d="M725.5,134.3 L729.8,138.6 L725.5,142.9 L721.2,138.6Z"/><path d="M726.2,133.2 L730.5,137.5 L726.2,141.8 L721.9,137.5Z"/><path d="M726.8,132.9 L731.1,137.2 L726.8,141.5 L722.5,137.2Z"/><path d="M726.6,132.8 L730.9,137.1 L726.6,141.4 L722.3,137.1Z"/><path d="M727.2,132.2 L731.5,136.5 L727.2,140.8 L722.9,136.5Z"/><path d="M727.9,131.7 L732.2,136.0 L727.9,140.3 L723.6,136.0Z"/><path d="M728.5,130.7 L732.8,135.0 L728.5,139.3 L724.2,135.0Z"/><path d="M728.6,130.9 L732.9,135.2 L728.6,139.5 L724.3,135.2Z"/><path d="M730.1,127.4 L734.4,131.7 L730.1,136.0 L725.8,131.7Z"/><path d="M730.2,127.0 L734.5,131.3 L730.2,135.6 L725.9,131.3Z"/><path d="M731.1,125.8 L735.4,130.1 L731.1,134.4 L726.8,130.1Z"/><path d="M731.6,125.7 L735.9,130.0 L731.6,134.3 L727.3,130.0Z"/><path d="M731.6,125.3 L735.9,129.6 L731.6,133.9 L727.3,129.6Z"/><path d="M732.1,124.5 L736.4,128.8 L732.1,133.1 L727.8,128.8Z"/><path d="M732.3,124.4 L736.6,128.7 L732.3,133.0 L728.0,128.7Z"/><path d="M734.0,122.6 L738.3,126.9 L734.0,131.2 L729.7,126.9Z"/><path d="M734.3,122.3 L738.6,126.6 L734.3,130.9 L730.0,126.6Z"/><path d="M735.4,121.2 L739.7,125.5 L735.4,129.8 L731.1,125.5Z"/><path d="M735.6,122.1 L739.9,126.4 L735.6,130.7 L731.3,126.4Z"/><path d="M735.6,122.1 L739.9,126.4 L735.6,130.7 L731.3,126.4Z"/><path d="M738.0,120.9 L742.3,125.2 L738.0,129.5 L733.7,125.2Z"/><path d="M738.8,120.7 L743.1,125.0 L738.8,129.3 L734.5,125.0Z"/><path d="M739.2,120.2 L743.5,124.5 L739.2,128.8 L734.9,124.5Z"/><path d="M739.6,119.7 L743.9,124.0 L739.6,128.3 L735.3,124.0Z"/><path d="M740.0,119.3 L744.3,123.6 L740.0,127.9 L735.7,123.6Z"/><path d="M741.9,116.9 L746.2,121.2 L741.9,125.5 L737.6,121.2Z"/><path d="M742.2,117.0 L746.5,121.3 L742.2,125.6 L737.9,121.3Z"/><path d="M743.1,116.3 L747.4,120.6 L743.1,124.9 L738.8,120.6Z"/><path d="M743.3,116.0 L747.6,120.3 L743.3,124.6 L739.0,120.3Z"/><path d="M744.2,115.6 L748.5,119.9 L744.2,124.2 L739.9,119.9Z"/><path d="M745.9,113.3 L750.2,117.6 L745.9,121.9 L741.6,117.6Z"/><path d="M748.0,114.4 L752.3,118.7 L748.0,123.0 L743.7,118.7Z"/><path d="M748.8,113.7 L753.1,118.0 L748.8,122.3 L744.5,118.0Z"/><path d="M748.7,113.4 L753.0,117.7 L748.7,122.0 L744.4,117.7Z"/><path d="M749.3,113.1 L753.6,117.4 L749.3,121.7 L745.0,117.4Z"/><path d="M750.2,112.5 L754.5,116.8 L750.2,121.1 L745.9,116.8Z"/><path d="M750.9,111.2 L755.2,115.5 L750.9,119.8 L746.6,115.5Z"/><path d="M798.1,110.0 L802.4,114.3 L798.1,118.6 L793.8,114.3Z"/><path d="M798.7,110.0 L803.0,114.3 L798.7,118.6 L794.4,114.3Z"/><path d="M798.7,109.5 L803.0,113.8 L798.7,118.1 L794.4,113.8Z"/><path d="M800.8,109.3 L805.1,113.6 L800.8,117.9 L796.5,113.6Z"/><path d="M801.6,109.0 L805.9,113.3 L801.6,117.6 L797.3,113.3Z"/><path d="M802.0,108.4 L806.3,112.7 L802.0,117.0 L797.7,112.7Z"/><path d="M802.5,108.4 L806.8,112.7 L802.5,117.0 L798.2,112.7Z"/><path d="M802.8,108.2 L807.1,112.5 L802.8,116.8 L798.5,112.5Z"/><path d="M803.6,107.4 L807.9,111.7 L803.6,116.0 L799.3,111.7Z"/><path d="M804.9,105.2 L809.2,109.5 L804.9,113.8 L800.6,109.5Z"/><path d="M841.8,106.4 L846.1,110.7 L841.8,115.0 L837.5,110.7Z"/><path d="M842.0,106.3 L846.3,110.6 L842.0,114.9 L837.7,110.6Z"/><path d="M843.0,105.8 L847.3,110.1 L843.0,114.4 L838.7,110.1Z"/><path d="M843.8,105.5 L848.1,109.8 L843.8,114.1 L839.5,109.8Z"/><path d="M844.3,105.1 L848.6,109.4 L844.3,113.7 L840.0,109.4Z"/><path d="M845.1,104.8 L849.4,109.1 L845.1,113.4 L840.8,109.1Z"/><path d="M847.4,103.0 L851.7,107.3 L847.4,111.6 L843.1,107.3Z"/><path d="M847.7,102.6 L852.0,106.9 L847.7,111.2 L843.4,106.9Z"/><path d="M848.6,102.1 L852.9,106.4 L848.6,110.7 L844.3,106.4Z"/><path d="M848.4,101.8 L852.7,106.1 L848.4,110.4 L844.1,106.1Z"/><path d="M849.3,101.5 L853.6,105.8 L849.3,110.1 L845.0,105.8Z"/><path d="M851.2,100.3 L855.5,104.6 L851.2,108.9 L846.9,104.6Z"/><path d="M853.5,98.6 L857.8,102.9 L853.5,107.2 L849.2,102.9Z"/><path d="M855.4,99.8 L859.7,104.1 L855.4,108.4 L851.1,104.1Z"/><path d="M856.3,99.1 L860.6,103.4 L856.3,107.7 L852.0,103.4Z"/><path d="M857.1,98.4 L861.4,102.7 L857.1,107.0 L852.8,102.7Z"/><path d="M864.9,99.1 L869.2,103.4 L864.9,107.7 L860.6,103.4Z"/><path d="M865.5,98.4 L869.8,102.7 L865.5,107.0 L861.2,102.7Z"/><path d="M866.1,98.5 L870.4,102.8 L866.1,107.1 L861.8,102.8Z"/><path d="M866.1,97.7 L870.4,102.0 L866.1,106.3 L861.8,102.0Z"/><path d="M866.4,97.7 L870.7,102.0 L866.4,106.3 L862.1,102.0Z"/><path d="M867.3,96.9 L871.6,101.2 L867.3,105.5 L863.0,101.2Z"/><path d="M867.6,97.0 L871.9,101.3 L867.6,105.6 L863.3,101.3Z"/><path d="M868.2,96.1 L872.5,100.4 L868.2,104.7 L863.9,100.4Z"/><path d="M868.8,95.5 L873.1,99.8 L868.8,104.1 L864.5,99.8Z"/><path d="M869.1,95.3 L873.4,99.6 L869.1,103.9 L864.8,99.6Z"/><path d="M870.6,95.2 L874.9,99.5 L870.6,103.8 L866.3,99.5Z"/><path d="M872.6,93.4 L876.9,97.7 L872.6,102.0 L868.3,97.7Z"/><path d="M873.0,92.9 L877.3,97.2 L873.0,101.5 L868.7,97.2Z"/><path d="M874.0,91.1 L878.3,95.4 L874.0,99.7 L869.7,95.4Z"/><path d="M874.5,91.3 L878.8,95.6 L874.5,99.9 L870.2,95.6Z"/><path d="M875.6,90.1 L879.9,94.4 L875.6,98.7 L871.3,94.4Z"/><path d="M876.0,88.9 L880.3,93.2 L876.0,97.5 L871.7,93.2Z"/><path d="M877.5,88.7 L881.8,93.0 L877.5,97.3 L873.2,93.0Z"/><path d="M879.4,87.4 L883.7,91.7 L879.4,96.0 L875.1,91.7Z"/><path d="M886.7,86.5 L891.0,90.8 L886.7,95.1 L882.4,90.8Z"/><path d="M887.0,86.1 L891.3,90.4 L887.0,94.7 L882.7,90.4Z"/><path d="M887.1,86.2 L891.4,90.5 L887.1,94.8 L882.8,90.5Z"/><path d="M887.9,85.3 L892.2,89.6 L887.9,93.9 L883.6,89.6Z"/><path d="M889.1,84.5 L893.4,88.8 L889.1,93.1 L884.8,88.8Z"/><path d="M895.9,85.0 L900.2,89.3 L895.9,93.6 L891.6,89.3Z"/><path d="M896.3,84.6 L900.6,88.9 L896.3,93.2 L892.0,88.9Z"/><path d="M896.8,84.2 L901.1,88.5 L896.8,92.8 L892.5,88.5Z"/><path d="M898.9,81.9 L903.2,86.2 L898.9,90.5 L894.6,86.2Z"/><path d="M898.9,81.2 L903.2,85.5 L898.9,89.8 L894.6,85.5Z"/><path d="M899.4,81.0 L903.7,85.3 L899.4,89.6 L895.1,85.3Z"/><path d="M899.6,80.7 L903.9,85.0 L899.6,89.3 L895.3,85.0Z"/><path d="M900.5,80.3 L904.8,84.6 L900.5,88.9 L896.2,84.6Z"/><path d="M903.2,78.7 L907.5,83.0 L903.2,87.3 L898.9,83.0Z"/><path d="M917.8,77.3 L922.1,81.6 L917.8,85.9 L913.5,81.6Z"/></g>
<rect x="415.5" y="227" width="498.0" height="82.69999999999999" fill="#fff"/>
<rect x="415.5" y="227.0" width="498.0" height="13.3" fill="#1e9ff2"/>
<rect x="415.5" y="254.6" width="498.0" height="13.0" fill="#1e9ff2"/>
<rect x="415.5" y="282.1" width="498.0" height="13.4" fill="#1e9ff2"/>
<line x1="415.5" y1="227" x2="415.5" y2="309.7" stroke="#3a3a3a" stroke-width="1"/>
<line x1="490.5" y1="227" x2="490.5" y2="309.7" stroke="#3a3a3a" stroke-width="1"/>
<line x1="542.5" y1="227" x2="542.5" y2="309.7" stroke="#3a3a3a" stroke-width="1"/>
<line x1="632.5" y1="227" x2="632.5" y2="309.7" stroke="#3a3a3a" stroke-width="1"/>
<line x1="723.5" y1="227" x2="723.5" y2="309.7" stroke="#3a3a3a" stroke-width="1"/>
<line x1="817.5" y1="227" x2="817.5" y2="309.7" stroke="#3a3a3a" stroke-width="1"/>
<line x1="913.5" y1="227" x2="913.5" y2="309.7" stroke="#3a3a3a" stroke-width="1"/>
<line x1="415.5" y1="227" x2="913.5" y2="227" stroke="#2b2b2b" stroke-width="0.9"/>
<line x1="415.5" y1="240.6" x2="913.5" y2="240.6" stroke="#2b2b2b" stroke-width="0.3"/>
<line x1="415.5" y1="254.3" x2="913.5" y2="254.3" stroke="#2b2b2b" stroke-width="0.3"/>
<line x1="415.5" y1="267.9" x2="913.5" y2="267.9" stroke="#2b2b2b" stroke-width="0.3"/>
<line x1="415.5" y1="281.8" x2="913.5" y2="281.8" stroke="#2b2b2b" stroke-width="0.3"/>
<line x1="415.5" y1="295.8" x2="913.5" y2="295.8" stroke="#2b2b2b" stroke-width="0.3"/>
<line x1="415.5" y1="309.7" x2="913.5" y2="309.7" stroke="#2b2b2b" stroke-width="0.9"/>
<text x="587.5" y="238.1" font-size="10" text-anchor="middle" fill="#0d2f6e" stroke="#0d2f6e" stroke-width="0.2">1-Month Return</text>
<text x="678.0" y="238.1" font-size="10" text-anchor="middle" fill="#0d2f6e" stroke="#0d2f6e" stroke-width="0.2">3-Month Return</text>
<text x="770.5" y="238.1" font-size="10" text-anchor="middle" fill="#0d2f6e" stroke="#0d2f6e" stroke-width="0.2">6-Month Return</text>
<text x="865.5" y="238.1" font-size="10" text-anchor="middle" fill="#0d2f6e" stroke="#0d2f6e" stroke-width="0.2">12-Month Return</text>
<text x="453.0" y="251.8" font-size="10.5" text-anchor="middle" fill="#1a1a1a" stroke="#1a1a1a" stroke-width="0.2">Average</text>
<text x="587.5" y="251.8" font-size="10.3" text-anchor="middle" fill="#1a1a1a" stroke="#1a1a1a" stroke-width="0.2">0.6%</text>
<text x="678.0" y="251.8" font-size="10.3" text-anchor="middle" fill="#1a1a1a" stroke="#1a1a1a" stroke-width="0.2">1.8%</text>
<text x="770.5" y="251.8" font-size="10.3" text-anchor="middle" fill="#1a1a1a" stroke="#1a1a1a" stroke-width="0.2">3.9%</text>
<text x="865.5" y="251.8" font-size="10.3" text-anchor="middle" fill="#1a1a1a" stroke="#1a1a1a" stroke-width="0.2">7.8%</text>
<text x="453.0" y="265.4" font-size="10.5" text-anchor="middle" fill="#0d2f6e" stroke="#0d2f6e" stroke-width="0.2">Median</text>
<text x="587.5" y="265.4" font-size="10.3" text-anchor="middle" fill="#0d2f6e" stroke="#0d2f6e" stroke-width="0.2">0.8%</text>
<text x="678.0" y="265.4" font-size="10.3" text-anchor="middle" fill="#0d2f6e" stroke="#0d2f6e" stroke-width="0.2">2.2%</text>
<text x="770.5" y="265.4" font-size="10.3" text-anchor="middle" fill="#0d2f6e" stroke="#0d2f6e" stroke-width="0.2">4.6%</text>
<text x="865.5" y="265.4" font-size="10.3" text-anchor="middle" fill="#0d2f6e" stroke="#0d2f6e" stroke-width="0.2">8.2%</text>
<text x="453.0" y="279.2" font-size="10.5" text-anchor="middle" fill="#1a1a1a" stroke="#1a1a1a" stroke-width="0.2">Higher</text>
<text x="587.5" y="279.2" font-size="10.3" text-anchor="middle" fill="#1a1a1a" stroke="#1a1a1a" stroke-width="0.2">873</text>
<text x="678.0" y="279.2" font-size="10.3" text-anchor="middle" fill="#1a1a1a" stroke="#1a1a1a" stroke-width="0.2">942</text>
<text x="770.5" y="279.2" font-size="10.3" text-anchor="middle" fill="#1a1a1a" stroke="#1a1a1a" stroke-width="0.2">979</text>
<text x="865.5" y="279.2" font-size="10.3" text-anchor="middle" fill="#1a1a1a" stroke="#1a1a1a" stroke-width="0.2">975</text>
<text x="453.0" y="293.1" font-size="10.5" text-anchor="middle" fill="#0d2f6e" stroke="#0d2f6e" stroke-width="0.2">Count</text>
<text x="587.5" y="293.1" font-size="10.3" text-anchor="middle" fill="#0d2f6e" stroke="#0d2f6e" stroke-width="0.2">1412</text>
<text x="678.0" y="293.1" font-size="10.3" text-anchor="middle" fill="#0d2f6e" stroke="#0d2f6e" stroke-width="0.2">1407</text>
<text x="770.5" y="293.1" font-size="10.3" text-anchor="middle" fill="#0d2f6e" stroke="#0d2f6e" stroke-width="0.2">1388</text>
<text x="865.5" y="293.1" font-size="10.3" text-anchor="middle" fill="#0d2f6e" stroke="#0d2f6e" stroke-width="0.2">1388</text>
<text x="453.0" y="307.1" font-size="10.5" text-anchor="middle" fill="#1a1a1a" stroke="#1a1a1a" stroke-width="0.2">% Positive</text>
<text x="587.5" y="307.1" font-size="10.3" text-anchor="middle" fill="#1a1a1a" stroke="#1a1a1a" stroke-width="0.2">61.8%</text>
<text x="678.0" y="307.1" font-size="10.3" text-anchor="middle" fill="#1a1a1a" stroke="#1a1a1a" stroke-width="0.2">67.0%</text>
<text x="770.5" y="307.1" font-size="10.3" text-anchor="middle" fill="#1a1a1a" stroke="#1a1a1a" stroke-width="0.2">70.5%</text>
<text x="865.5" y="307.1" font-size="10.3" text-anchor="middle" fill="#1a1a1a" stroke="#1a1a1a" stroke-width="0.2">70.2%</text>
<text x="9.3" y="399.2" font-size="12.1" fill="#111" stroke="#111" stroke-width="0.15" textLength="390" lengthAdjust="spacingAndGlyphs">Source: Carson Investment Research. FactSet 05/17/2024 (1900 - Current)</text>
<text x="539.3" y="395.7" font-size="12.4" fill="#111" stroke="#111" stroke-width="0.15" textLength="68.8" lengthAdjust="spacingAndGlyphs">@ryandetrick</text>
<defs><linearGradient id="lgA" x1="1" y1="0" x2="0" y2="1"><stop offset="0" stop-color="#a6d5fb"/><stop offset="1" stop-color="#5fb0f0"/></linearGradient><linearGradient id="lgB" x1="0" y1="0" x2="1" y2="1"><stop offset="0" stop-color="#1c82da"/><stop offset="1" stop-color="#1ea2f8"/></linearGradient><linearGradient id="lgC" x1="0" y1="0" x2="0" y2="1"><stop offset="0" stop-color="#071c39"/><stop offset="0.5" stop-color="#0c2a50"/><stop offset="1" stop-color="#174372"/></linearGradient></defs>
<g><polygon points="767.4,374.9 767.4,386.7 739.5,397.7 739.5,387.0" fill="url(#lgA)"/><polygon points="739.5,387.0 767.4,399 767.4,409.7 739.5,397.7" fill="url(#lgB)"/><polygon points="739.5,387.0 752.1,392.6 739.5,397.7" fill="url(#lgC)"/></g>
</svg>
<div class="carson">CARSON</div>
</body></html>
